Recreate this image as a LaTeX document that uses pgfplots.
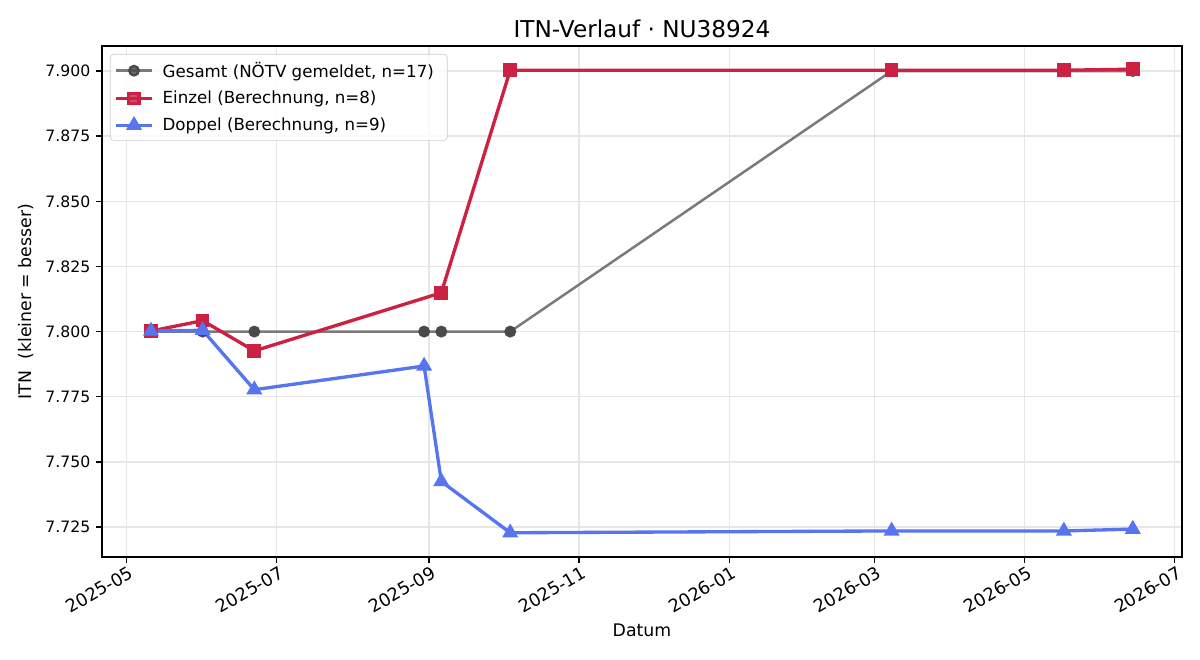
\documentclass[border=0pt]{standalone}
\usepackage{pgfplots}
\pgfplotsset{compat=1.18}
\usepackage{fontspec}
\setmainfont{DejaVu Sans}
\definecolor{cgray}{HTML}{7A7A7A}
\definecolor{cgraym}{HTML}{4A4A4A}
\definecolor{cred}{HTML}{CC2142}
\definecolor{cblue}{HTML}{5875F0}
\definecolor{cgrid}{HTML}{E6E6E6}
\begin{document}
\begin{tikzpicture}
\path[use as bounding box] (-61.2pt,-61.8pt) rectangle (658.8pt,334.2pt);
\begin{axis}[
  scale only axis,
  width=648pt, height=306.6pt,
  xmin=-9.9, xmax=429,
  ymin=7.7135, ymax=7.9096,
  xtick={0,61,123,184,245,304,365,426},
  xticklabels={2025-05,2025-07,2025-09,2025-11,2026-01,2026-03,2026-05,2026-07},
  ytick={7.725,7.75,7.775,7.8,7.825,7.85,7.875,7.9},
  yticklabel style={font=\fontsize{9.4}{10}\selectfont, /pgf/number format/fixed, /pgf/number format/fixed zerofill, /pgf/number format/precision=3, /pgf/number format/assume math mode=true},
  xticklabel style={xshift=1.5pt, rotate=30, anchor=north east, font=\fontsize{10.6}{12}\selectfont, inner sep=1pt},
  scaled y ticks=false,
  tick align=outside, major tick length=3.5pt,
  xtick pos=bottom, ytick pos=left,
  axis line style={line width=0.8pt},
  every tick/.style={line width=0.8pt, black},
  grid=major,
  major grid style={color=cgrid, line width=0.8pt},
  title={ITN-Verlauf · NU38924},
  title style={font=\fontsize{13.9}{15}\selectfont, yshift=-4.5pt},
  xlabel={Datum},
  ylabel={ITN\ \ (kleiner = besser)},
  label style={font=\fontsize{10.4}{12}\selectfont},
  xlabel style={yshift=-1pt},
  ylabel style={yshift=0pt},
  legend cell align=left,
  legend style={at={(axis description cs:0,1)}, anchor=north west, xshift=4.8pt, yshift=-4.8pt,
    draw=black!20, rounded corners=2pt, fill=white, fill opacity=0.8, text opacity=1,
    font=\fontsize{10}{12}\selectfont, row sep=2.9pt, inner sep=2.5pt,
    nodes={inner xsep=5.5pt}},
  legend image code/.code={\draw[mark repeat=2,mark phase=2] plot coordinates {(0pt,0pt) (10.7pt,0pt) (21.4pt,0pt)};},
]
\addplot[cgray, line width=1.5pt, mark=*, mark size=2.8pt, mark options={fill=cgraym, draw=cgraym}] coordinates {
 (10,7.800) (31,7.800) (52,7.800) (121,7.800) (128,7.800) (156,7.800) (311,7.900) (381,7.900) (409,7.900)};
\addlegendentry{Gesamt (NÖTV gemeldet, n=17)}
\addplot[cred, line width=2pt, mark=square*, mark size=3.1pt, mark options={fill=cred}] coordinates {
 (10,7.8002) (31,7.8042) (52,7.7926) (128,7.8149) (156,7.9003) (311,7.9003) (381,7.9003) (409,7.9007)};
\addlegendentry{Einzel (Berechnung, n=8)}
\addplot[cblue, line width=2pt, mark=triangle*, mark size=3.6pt, mark options={fill=cblue}] coordinates {
 (10,7.8002) (31,7.8005) (52,7.7777) (121,7.7868) (128,7.7425) (156,7.7228) (311,7.7235) (381,7.7235) (409,7.7242)};
\addlegendentry{Doppel (Berechnung, n=9)}
\end{axis}
\end{tikzpicture}
\end{document}
